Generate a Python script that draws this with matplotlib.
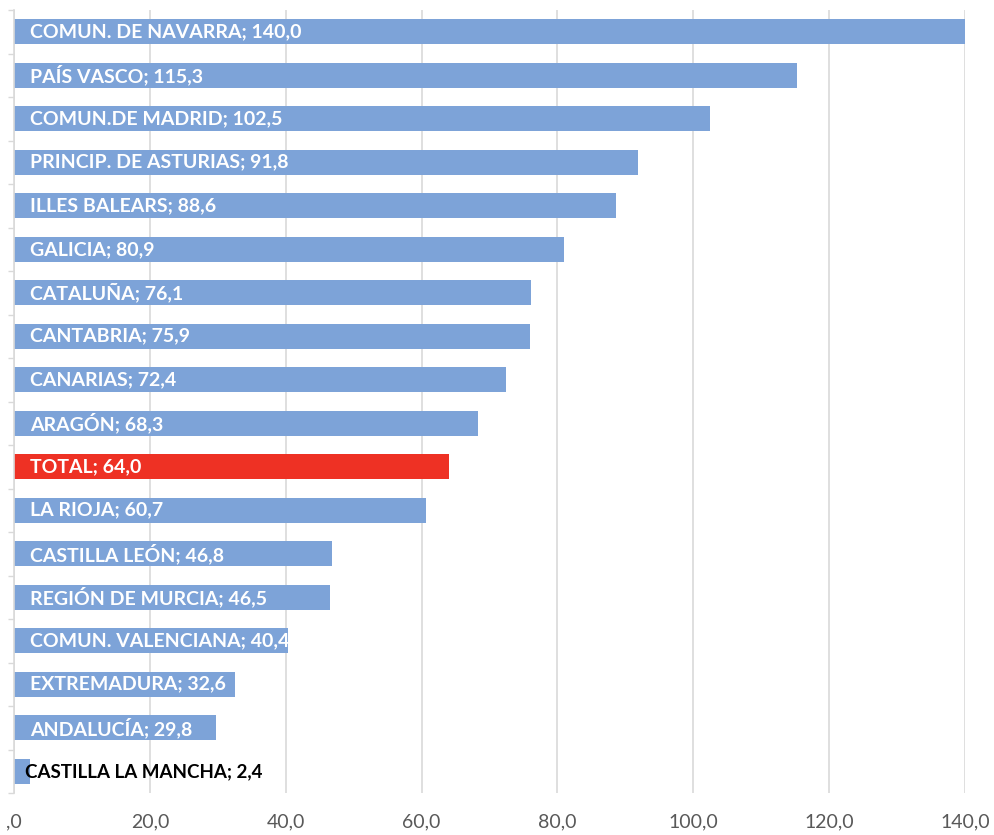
import matplotlib
matplotlib.use("Agg")
import matplotlib.pyplot as plt
import numpy as np

categories = ["COMUN. DE NAVARRA", "PAÍS VASCO", "COMUN.DE MADRID", "PRINCIP. DE ASTURIAS",
              "ILLES BALEARS", "GALICIA", "CATALUÑA", "CANTABRIA", "CANARIAS", "ARAGÓN",
              "TOTAL", "LA RIOJA", "CASTILLA LEÓN", "REGIÓN DE MURCIA", "COMUN. VALENCIANA",
              "EXTREMADURA", "ANDALUCÍA", "CASTILLA LA MANCHA"]
values = [140.0, 115.3, 102.5, 91.8, 88.6, 80.9, 76.1, 75.9, 72.4, 68.3,
          64.0, 60.7, 46.8, 46.5, 40.4, 32.6, 29.8, 2.4]
xticks = [0, 20, 40, 60, 80, 100, 120, 140]
xticklabels = [",0", "20,0", "40,0", "60,0", "80,0", "100,0", "120,0", "140,0"]

blue = "#7da3d8"
red = "#ee3124"

fig = plt.figure(figsize=(9.94, 8.35), dpi=100)
ax = fig.add_axes([14/994, 1-793/835, (965-14)/994, (793-10)/835])

n = len(categories)
y = np.arange(n)
colors = [red if c == "TOTAL" else blue for c in categories]
ax.barh(y, values, height=0.57, color=colors, zorder=2)
ax.set_ylim(n - 0.5, -0.5)
ax.set_xlim(0, 140)

for i, (c, v) in enumerate(zip(categories, values)):
    txt = c + "; " + f"{v:.1f}".replace(".", ",")
    if v < 10:
        ax.text(1.6, i, txt, va="center", ha="left", color="black",
                fontsize=13.5, fontweight="bold", family="Lato", zorder=3)
    else:
        ax.text(2.4, i, txt, va="center", ha="left", color="white",
                fontsize=14, fontweight="bold", family="Lato", zorder=3)

ax.set_xticks(xticks)
ax.set_xticklabels(xticklabels, family="Lato", fontsize=14, color="#595959")
ax.tick_params(axis="x", length=0, pad=15)
ax.xaxis.grid(True, color="#d9d9d9", linewidth=1.2, zorder=0)
ax.set_axisbelow(True)

ax.set_yticks(np.arange(-0.5, n, 1.0))
ax.set_yticklabels([])
ax.tick_params(axis="y", length=4, color="#d9d9d9", width=1)

for s in ["top", "right", "bottom"]:
    ax.spines[s].set_visible(False)
ax.spines["left"].set_color("#d9d9d9")
ax.spines["left"].set_linewidth(1.2)

fig.savefig("out.png", dpi=100)
